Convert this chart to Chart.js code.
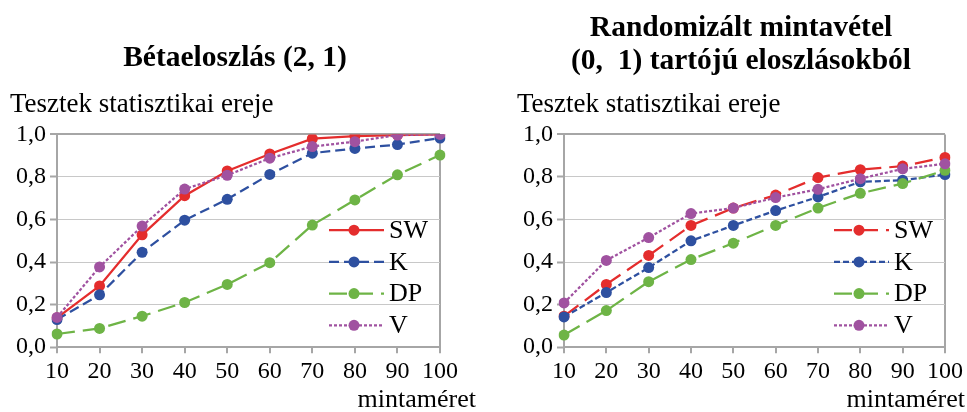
<!DOCTYPE html>
<html>
<head>
<meta charset="utf-8">
<script src="https://cdn.jsdelivr.net/npm/chart.js@4.4.1/dist/chart.umd.min.js"></script>
<style>
	html, body { margin: 0; padding: 0; background: #fff; }
	.wrap { position: absolute; top: 0; height: 412px; }
	#wrap-beta { left: 0; width: 483px; }
	#wrap-mix { left: 483px; width: 484px; }
</style>
</head>
<body>
<div class="wrap" id="wrap-beta"><canvas id="chart-beta"></canvas></div>
<div class="wrap" id="wrap-mix"><canvas id="chart-mix"></canvas></div>
<script>
// Sample sizes (x axis)
const SIZES = ["10", "20", "30", "40", "50", "60", "70", "80", "90", "100"];

// Béta(2, 1) power values
const BETA_SW = [0.138, 0.288, 0.528, 0.712, 0.828, 0.908, 0.98, 0.992, 0.997, 1.0];
const BETA_K = [0.13, 0.246, 0.446, 0.597, 0.695, 0.812, 0.912, 0.934, 0.952, 0.983];
const BETA_DP = [0.062, 0.088, 0.146, 0.21, 0.295, 0.397, 0.574, 0.692, 0.81, 0.903];
const BETA_V = [0.14, 0.377, 0.569, 0.743, 0.808, 0.888, 0.943, 0.966, 0.997, 1.0];

// Random (0, 1) supported distributions power values
const MIX_SW = [0.146, 0.295, 0.431, 0.572, 0.654, 0.715, 0.797, 0.834, 0.851, 0.892];
const MIX_K = [0.142, 0.257, 0.374, 0.5, 0.572, 0.642, 0.706, 0.777, 0.785, 0.811];
const MIX_DP = [0.057, 0.172, 0.308, 0.412, 0.489, 0.572, 0.654, 0.723, 0.769, 0.831];
const MIX_V = [0.208, 0.408, 0.515, 0.628, 0.654, 0.703, 0.742, 0.792, 0.838, 0.862];

const SERIES_NAMES = ["SW", "K", "DP", "V"];
const BETA_TITLE = ["Bétaeloszlás (2, 1)"];
const MIX_TITLE = ["Randomizált mintavétel", "(0,  1) tartójú eloszlásokból"];
const Y_TITLE = "Tesztek statisztikai ereje";
const X_TITLE = "mintaméret";

const FONT = "'Liberation Serif', 'Times New Roman', serif";
const COLORS = {
	sw: "rgb(228, 45, 45)",
	k: "rgb(46, 80, 160)",
	dp: "rgb(110, 180, 70)",
	v: "rgb(160, 82, 160)",
	border: "#a6a6a6",
	grid: "#c8c8c8",
};

//---------------------------------------------------------
// Title, legend inside the plot, x axis title
//---------------------------------------------------------
const overlayText = {
	id: "overlayText",
	afterDraw(chart, args, opts) {
		const { ctx, chartArea } = chart;
		ctx.save();

		// chart title (centred on its own x, not on the layout box)
		ctx.fillStyle = "#000";
		ctx.font = "bold 29.5px " + FONT;
		ctx.textAlign = "center";
		ctx.textBaseline = "middle";
		opts.title.forEach((line, i) => {
			ctx.fillText(line, opts.titleX, opts.titleY[i]);
		});

		// legend
		chart.data.datasets.forEach((ds, i) => {
			const y = chartArea.bottom - 117 + i * 31.7;
			const x0 = chartArea.right - 111;
			const x1 = chartArea.right - 56;
			const xm = chartArea.right - 86;
			ctx.strokeStyle = ds.borderColor;
			ctx.lineWidth = ds.borderWidth;
			ctx.setLineDash(ds.borderDash || []);
			ctx.beginPath();
			ctx.moveTo(x0, y);
			ctx.lineTo(x1, y);
			ctx.stroke();
			ctx.setLineDash([]);
			ctx.fillStyle = ds.pointBackgroundColor;
			ctx.beginPath();
			ctx.arc(xm, y, ds.pointRadius, 0, Math.PI * 2);
			ctx.fill();
			ctx.fillStyle = "#000";
			ctx.font = "26px " + FONT;
			ctx.textAlign = "left";
			ctx.textBaseline = "middle";
			ctx.fillText(ds.label, chartArea.right - 51, y + 1);
		});

		// x axis title, right aligned under the last tick
		ctx.fillStyle = "#000";
		ctx.font = "26px " + FONT;
		ctx.textAlign = "right";
		ctx.textBaseline = "middle";
		ctx.fillText(X_TITLE, chart.width - opts.xTitleInset, 400);
		ctx.restore();
	},
};

const makeDataset = (label, data, color, dash, order) => ({
	label,
	data,
	borderColor: color,
	backgroundColor: color,
	borderWidth: 2.25,
	borderDash: dash,
	pointRadius: 5.5,
	pointHoverRadius: 5.5,
	pointBackgroundColor: color,
	pointBorderColor: color,
	pointBorderWidth: 0,
	tension: 0,
	order,
});

const makeConfig = (title, titleX, titleY, series, dashes, padding, xTitleInset) => ({
	type: "line",
	data: {
		labels: SIZES,
		datasets: [
			makeDataset(SERIES_NAMES[0], series[0], COLORS.sw, dashes[0], 4),
			makeDataset(SERIES_NAMES[1], series[1], COLORS.k, dashes[1], 3),
			makeDataset(SERIES_NAMES[2], series[2], COLORS.dp, dashes[2], 2),
			makeDataset(SERIES_NAMES[3], series[3], COLORS.v, dashes[3], 1),
		],
	},
	options: {
		responsive: true,
		maintainAspectRatio: false,
		animation: false,
		events: [],
		layout: { padding },
		scales: {
			x: {
				offset: false,
				border: { display: true, color: COLORS.border, width: 2 },
				grid: {
					color: (c) => (c.index === SIZES.length - 1 ? COLORS.border : "rgba(0,0,0,0)"),
					lineWidth: 2,
					drawTicks: true,
					tickLength: 6,
					tickColor: COLORS.border,
					tickWidth: 2,
				},
				ticks: {
					color: "#000",
					font: { family: FONT, size: 24 },
					padding: 4,
					maxRotation: 0,
					autoSkip: false,
				},
			},
			y: {
				min: 0,
				max: 1,
				border: { display: true, color: COLORS.border, width: 2 },
				grid: {
					color: (c) => (c.tick && c.tick.value === 1 ? COLORS.border : COLORS.grid),
					lineWidth: (c) => (c.tick && c.tick.value === 1 ? 2 : 1),
					drawTicks: true,
					tickLength: 7,
					tickColor: COLORS.border,
					tickWidth: 2,
				},
				ticks: {
					stepSize: 0.2,
					color: "#000",
					font: { family: FONT, size: 24 },
					padding: 4,
					callback: (v) => v.toFixed(1).replace(".", ","),
				},
				afterFit: (scale) => {
					scale.width = 47;
				},
			},
		},
		plugins: {
			legend: { display: false },
			tooltip: { enabled: false },
			title: { display: false },
			subtitle: {
				display: true,
				text: Y_TITLE,
				align: "start",
				color: "#000",
				font: { family: FONT, size: 27, lineHeight: 1.2 },
				padding: { top: 89, bottom: 13 },
			},
			overlayText: { title, titleX, titleY, xTitleInset },
		},
	},
	plugins: [overlayText],
});

const betaChart = new Chart(
	document.getElementById("chart-beta"),
	makeConfig(
		BETA_TITLE,
		235,
		[58],
		[BETA_SW, BETA_K, BETA_DP, BETA_V],
		[[], [10, 5], [18, 8], [3, 2]],
		{ left: 10, right: 43, top: 0, bottom: 22 },
		7
	)
);

const mixChart = new Chart(
	document.getElementById("chart-mix"),
	makeConfig(
		MIX_TITLE,
		258,
		[28, 61],
		[MIX_SW, MIX_K, MIX_DP, MIX_V],
		[[18, 8], [6, 3], [18, 8], [3, 2]],
		{ left: 34, right: 20, top: 0, bottom: 22 },
		2
	)
);
</script>
</body>
</html>
